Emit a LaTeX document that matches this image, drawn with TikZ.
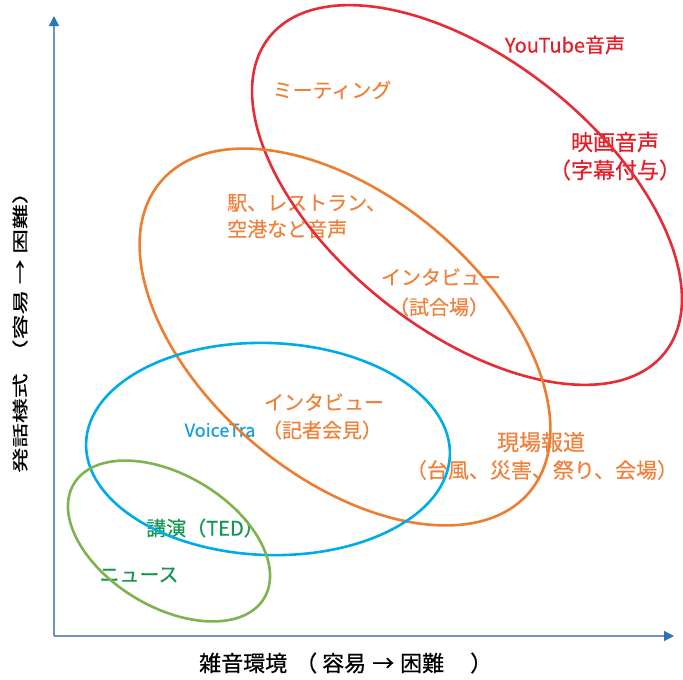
\documentclass[tikz,border=0pt]{standalone}
\usepackage{fontspec}
\setmainfont{Noto Sans CJK JP}
\newfontfamily\jpb[FakeBold=0.5]{Noto Sans CJK JP}
\usetikzlibrary{arrows.meta}
\definecolor{redc}{RGB}{230,45,55}
\definecolor{redt}{RGB}{228,30,40}
\definecolor{orangec}{RGB}{237,125,49}
\definecolor{oranget}{RGB}{238,130,60}
\definecolor{bluec}{RGB}{0,172,232}
\definecolor{bluet}{RGB}{20,160,220}
\definecolor{greenc}{RGB}{128,178,80}
\definecolor{greent}{RGB}{20,150,80}
\definecolor{axisc}{RGB}{110,145,200}
\definecolor{axish}{RGB}{46,117,182}
\begin{document}
\begin{tikzpicture}[x=1pt,y=-1pt,
  lbl/.style={inner sep=0pt,font=\jpb\fontsize{20}{24}\selectfont},
  olbl/.style={lbl,text=oranget},
  axislbl/.style={inner sep=0pt,font=\jpb\fontsize{22}{26}\selectfont,text=black},
  ring/.style={line width=2.6pt},
  axisline/.style={draw=axisc,line width=1.3pt,-{Triangle[length=10pt,width=10pt,color=axish]}}]
\useasboundingbox (0,0) rectangle (683,680);
% axes
\coordinate (O) at (54,636);
\coordinate (Ytop) at (54,16);
\coordinate (Xend) at (674,636);
\draw[axisline] (O) -- (Ytop);
\draw[axisline] (O) -- (Xend);
% texts
\node[lbl,text=redt] (yt) at (565,45) {YouTube音声};
\node[olbl] (meet) at (332,90) {ミーティング};
\node[lbl,text=redt,font=\jpb\fontsize{22}{26}\selectfont] (eiga1) at (615,142) {映画音声};
\node[lbl,text=redt,font=\jpb\fontsize{22}{26}\selectfont] (eiga2) at (615,170) {（字幕付与）};
\node[olbl,anchor=west] (eki1) at (227,203) {駅、レストラン、};
\node[olbl,anchor=west] (eki2) at (227,229) {空港など音声};
\node[olbl] (int1) at (441,277) {インタビュー};
\node[olbl] (int2) at (439,307) {（試合場）};
\node[olbl] (kis1) at (324,402) {インタビュー};
\node[olbl] (kis2) at (322,430) {（記者会見）};
\node[inner sep=0pt,font=\jpb\fontsize{18}{20}\selectfont,text=bluet] (vt) at (220,430) {VoiceTra};
\node[olbl,font=\jpb\fontsize{22}{26}\selectfont] (gen1) at (541,442) {現場報道};
\node[olbl,font=\jpb\fontsize{21}{26}\selectfont] (gen2) at (542,470) {（台風、災害、祭り、会場）};
\node[lbl,text=greent] (ted) at (205,528) {講演（TED）};
\node[lbl,text=greent] (news) at (139,575) {ニュース};
\node[axislbl,anchor=west] (xl) at (199,663) {雑音環境\hspace{8pt}（\hspace{5pt}容易\hspace{6pt}→\hspace{6pt}困難\hspace{26pt}）};
\node[inner sep=0pt,rotate=90,font=\jpb\fontsize{16}{20}\selectfont] (yl) at (20,326) {\scalebox{1.55}[1]{発話様式\hspace{6pt}（容易 → 困難）}};
% ellipses
\begin{scope}[shift={(467,195)},rotate=-38.6]
\draw[ring,redc] (0,0) ellipse [x radius=253,y radius=135];
\end{scope}
\begin{scope}[shift={(345,337)},rotate=-40]
\draw[ring,orangec] (0,0) ellipse [x radius=241,y radius=140];
\end{scope}
\begin{scope}[shift={(268,449)},rotate=-2]
\draw[ring,bluec] (0,0) ellipse [x radius=182,y radius=106];
\end{scope}
\begin{scope}[shift={(169,541)},rotate=-31]
\draw[ring,greenc] (0,0) ellipse [x radius=111,y radius=66];
\end{scope}
\end{tikzpicture}
\end{document}
